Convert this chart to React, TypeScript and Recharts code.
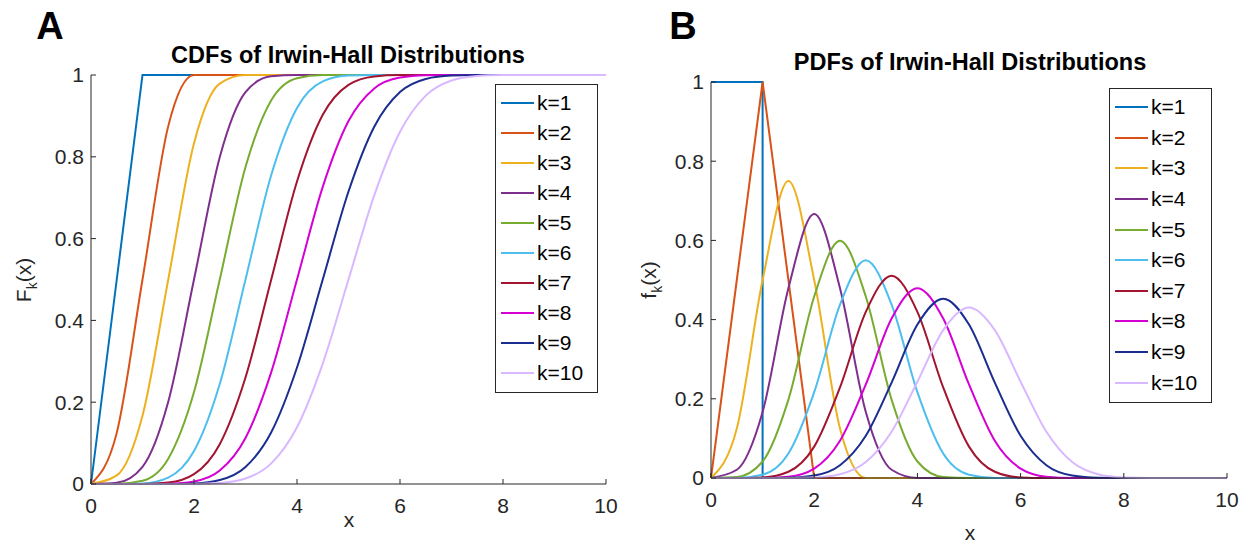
import { LineChart, Line, XAxis, YAxis } from 'recharts';

const xs = [0, 0.5, 1, 1.5, 2, 2.5, 3, 3.5, 4, 4.5, 5, 5.5, 6, 6.5, 7, 7.5, 8, 8.5, 9, 9.5, 10];
const names = ['k=1', 'k=2', 'k=3', 'k=4', 'k=5', 'k=6', 'k=7', 'k=8', 'k=9', 'k=10'];
const colors = ['#0072BD', '#D95319', '#EDB120', '#7E2F8E', '#77AC30', '#4DBEEE', '#A2142F', '#D400D4', '#1B2D8F', '#D8B8FF'];
const xTicks = [0, 2, 4, 6, 8, 10];
const yTicks = [0, 0.2, 0.4, 0.6, 0.8, 1];

// CDF readings, one value per entry of xs
const cdf1 = [0, 0.5, 1, 1, 1, 1, 1, 1, 1, 1, 1, 1, 1, 1, 1, 1, 1, 1, 1, 1, 1];
const cdf2 = [0, 0.125, 0.5, 0.875, 1, 1, 1, 1, 1, 1, 1, 1, 1, 1, 1, 1, 1, 1, 1, 1, 1];
const cdf3 = [0, 0.021, 0.167, 0.5, 0.833, 0.979, 1, 1, 1, 1, 1, 1, 1, 1, 1, 1, 1, 1, 1, 1, 1];
const cdf4 = [0, 0.003, 0.042, 0.201, 0.5, 0.799, 0.958, 0.997, 1, 1, 1, 1, 1, 1, 1, 1, 1, 1, 1, 1, 1];
const cdf5 = [0, 0.0003, 0.008, 0.062, 0.225, 0.5, 0.775, 0.938, 0.992, 0.9997, 1, 1, 1, 1, 1, 1, 1, 1, 1, 1, 1];
const cdf6 = [0, 0, 0.0014, 0.0157, 0.0806, 0.2445, 0.5, 0.7555, 0.9194, 0.9843, 0.9986, 1, 1, 1, 1, 1, 1, 1, 1, 1, 1];
const cdf7 = [0, 0, 0.0002, 0.0034, 0.024, 0.0974, 0.2603, 0.5, 0.7397, 0.9026, 0.976, 0.9966, 0.9998, 1, 1, 1, 1, 1, 1, 1, 1];
const cdf8 = [0, 0, 0, 0.0006, 0.0062, 0.0328, 0.1126, 0.2735, 0.5, 0.7265, 0.8874, 0.9672, 0.9938, 0.9994, 1, 1, 1, 1, 1, 1, 1];
const cdf9 = [0, 0, 0, 0.0001, 0.0014, 0.0096, 0.0416, 0.1264, 0.2848, 0.5, 0.7152, 0.8736, 0.9584, 0.9904, 0.9986, 0.9999, 1, 1, 1, 1, 1];
const cdf10 = [0, 0, 0, 0, 0.0003, 0.0025, 0.0135, 0.0505, 0.1389, 0.2945, 0.5, 0.7055, 0.8611, 0.9495, 0.9865, 0.9975, 0.9997, 1, 1, 1, 1];

// PDF readings
const pdf1X = [0, 1, 1, 10];
const pdf1Y = [1, 1, 0, 0];
const pdf2 = [0, 0.5, 1, 0.5, 0, 0, 0, 0, 0, 0, 0, 0, 0, 0, 0, 0, 0, 0, 0, 0, 0];
const pdf3 = [0, 0.125, 0.5, 0.75, 0.5, 0.125, 0, 0, 0, 0, 0, 0, 0, 0, 0, 0, 0, 0, 0, 0, 0];
const pdf4 = [0, 0.0208, 0.1667, 0.4792, 0.6667, 0.4792, 0.1667, 0.0208, 0, 0, 0, 0, 0, 0, 0, 0, 0, 0, 0, 0, 0];
const pdf5 = [0, 0.0026, 0.0417, 0.1979, 0.4583, 0.599, 0.4583, 0.1979, 0.0417, 0.0026, 0, 0, 0, 0, 0, 0, 0, 0, 0, 0, 0];
const pdf6 = [0, 0.0003, 0.0083, 0.0617, 0.2167, 0.438, 0.55, 0.438, 0.2167, 0.0617, 0.0083, 0.0003, 0, 0, 0, 0, 0, 0, 0, 0, 0];
const pdf7 = [0, 0, 0.0014, 0.0157, 0.0792, 0.2288, 0.4194, 0.511, 0.4194, 0.2288, 0.0792, 0.0157, 0.0014, 0, 0, 0, 0, 0, 0, 0, 0];
const pdf8 = [0, 0, 0.0002, 0.0034, 0.0238, 0.094, 0.2363, 0.4026, 0.4794, 0.4026, 0.2363, 0.094, 0.0238, 0.0034, 0.0002, 0, 0, 0, 0, 0, 0];
const pdf9 = [0, 0, 0, 0.0006, 0.0061, 0.0321, 0.1065, 0.2408, 0.3874, 0.4529, 0.3874, 0.2408, 0.1065, 0.0321, 0.0061, 0.0006, 0, 0, 0, 0, 0];
const pdf10 = [0, 0, 0, 0.0001, 0.0014, 0.0095, 0.0403, 0.1168, 0.2432, 0.3736, 0.4304, 0.3736, 0.2432, 0.1168, 0.0403, 0.0095, 0.0014, 0.0001, 0, 0, 0];

const cdfs = [cdf1, cdf2, cdf3, cdf4, cdf5, cdf6, cdf7, cdf8, cdf9, cdf10];
const pdfs = [null, pdf2, pdf3, pdf4, pdf5, pdf6, pdf7, pdf8, pdf9, pdf10];

const FONT = '"Liberation Sans", Arial, Helvetica, sans-serif';
const INK = '#262626';

const cdfRows = xs.map((x, i) => {
  const r: Record<string, number> = { x };
  cdfs.forEach((s, k) => (r['k' + (k + 1)] = s[i]));
  return r;
});
const pdfRows = xs.map((x, i) => {
  const r: Record<string, number> = { x };
  pdfs.forEach((s, k) => {
    if (s) r['k' + (k + 1)] = s[i];
  });
  return r;
});
const pdf1Rows = pdf1X.map((x, i) => ({ x, k1: pdf1Y[i] }));

const tickStyle = { fill: INK, fontSize: 21, fontFamily: FONT };

const LegendBox = ({ left, top, gap }: { left: number; top: number; gap: number }) => (
  <div
    style={{
      position: 'absolute',
      left,
      top,
      width: 101,
      border: '1px solid #262626',
      background: '#fff',
      padding: '3px 0 4px 0',
      fontFamily: FONT,
      fontSize: 21,
      color: '#000',
    }}
  >
    {names.map((n, i) => (
      <div key={n} style={{ display: 'flex', alignItems: 'center', height: gap }}>
        <div style={{ width: 33, height: 2, background: colors[i], marginLeft: 5, marginRight: 3 }} />
        <span>{n}</span>
      </div>
    ))}
  </div>
);

const abs = (left: number, top: number, extra: any = {}) => ({
  position: 'absolute' as const,
  left,
  top,
  transform: 'translate(-50%, -50%)',
  whiteSpace: 'nowrap' as const,
  fontFamily: FONT,
  ...extra,
});

export default function App() {
  return (
    <div style={{ position: 'absolute', left: 0, top: 0, width: 1251, height: 544, background: '#fff', overflow: 'hidden' }}>
      {/* panel A */}
      <div style={{ position: 'absolute', left: 0, top: 0 }}>
        <LineChart width={620} height={544} data={cdfRows} margin={{ top: 75, right: 14, bottom: 20, left: 41 }}>
          <XAxis
            dataKey="x"
            type="number"
            domain={[0, 10]}
            ticks={xTicks}
            height={40}
            tickSize={-5}
            tickMargin={19}
            stroke={INK}
            tick={tickStyle}
          />
          <YAxis
            type="number"
            domain={[0, 1]}
            ticks={yTicks}
            width={50}
            tickSize={-5}
            tickMargin={12}
            stroke={INK}
            tick={tickStyle}
          />
          {names.map((n, i) => (
            <Line
              key={n}
              dataKey={'k' + (i + 1)}
              name={n}
              stroke={colors[i]}
              strokeWidth={2}
              dot={false}
              type={i === 0 ? 'linear' : 'monotone'}
              isAnimationActive={false}
            />
          ))}
        </LineChart>
      </div>

      {/* panel B */}
      <div style={{ position: 'absolute', left: 620, top: 0 }}>
        <LineChart width={631} height={544} data={pdfRows} margin={{ top: 82, right: 24, bottom: 26, left: 41 }}>
          <XAxis
            dataKey="x"
            type="number"
            domain={[0, 10]}
            ticks={xTicks}
            height={40}
            tickSize={-5}
            tickMargin={19}
            stroke={INK}
            tick={tickStyle}
          />
          <YAxis
            type="number"
            domain={[0, 1]}
            ticks={yTicks}
            width={50}
            tickSize={-5}
            tickMargin={12}
            stroke={INK}
            tick={tickStyle}
          />
          {names.map((n, i) => (
            <Line
              key={n}
              data={i === 0 ? pdf1Rows : undefined}
              dataKey={'k' + (i + 1)}
              name={n}
              stroke={colors[i]}
              strokeWidth={2}
              dot={false}
              type={i < 2 ? 'linear' : 'monotone'}
              isAnimationActive={false}
            />
          ))}
        </LineChart>
      </div>

      <LegendBox left={495} top={84} gap={30} />
      <LegendBox left={1109} top={88} gap={30.6} />

      <div style={abs(50, 26, { fontSize: 38, fontWeight: 'bold' })}>A</div>
      <div style={abs(683, 26, { fontSize: 38, fontWeight: 'bold' })}>B</div>
      <div style={abs(348, 55, { fontSize: 23.5, fontWeight: 'bold' })}>CDFs of Irwin-Hall Distributions</div>
      <div style={abs(970, 62, { fontSize: 23.5, fontWeight: 'bold' })}>PDFs of Irwin-Hall Distributions</div>
      <div style={abs(349, 520, { fontSize: 21, color: INK })}>x</div>
      <div style={abs(970, 533, { fontSize: 21, color: INK })}>x</div>
      <div style={abs(26, 280, { fontSize: 21, color: INK, transform: 'translate(-50%, -50%) rotate(-90deg)' })}>
        F<sub style={{ fontSize: 14 }}>k</sub>(x)
      </div>
      <div style={abs(651, 280, { fontSize: 21, color: INK, transform: 'translate(-50%, -50%) rotate(-90deg)' })}>
        f<sub style={{ fontSize: 14 }}>k</sub>(x)
      </div>
    </div>
  );
}
